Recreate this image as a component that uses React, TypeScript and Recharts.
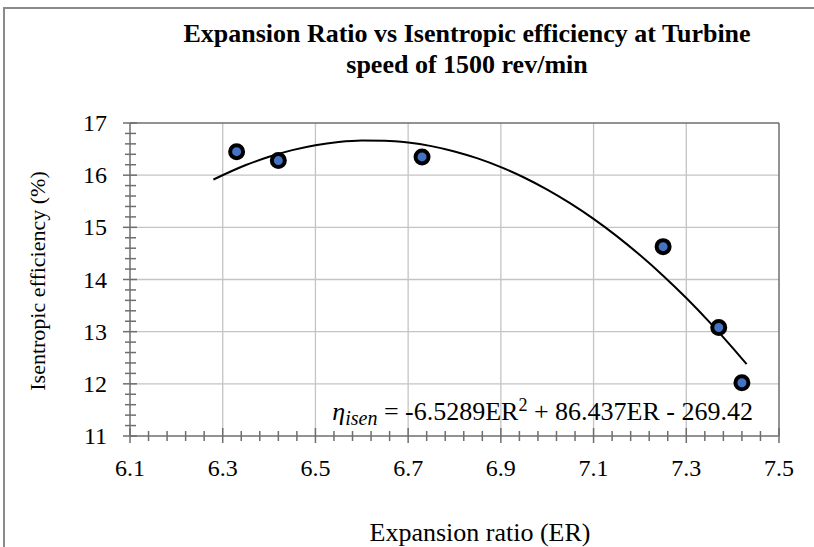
import React from 'react';
import { ComposedChart, Line, Scatter, XAxis, YAxis, ReferenceLine } from 'recharts';

// axis ticks (major, labelled)
const xMajorTicks = [6.1, 6.3, 6.5, 6.7, 6.9, 7.1, 7.3, 7.5];
const yMajorTicks = [11, 12, 13, 14, 15, 16, 17];

// measured points
const expansionRatio = [6.33, 6.42, 6.73, 7.25, 7.37, 7.42];
const efficiency = [16.45, 16.28, 16.35, 14.63, 13.08, 12.02];

// polynomial trendline
const trendX = [6.28, 6.35, 6.4, 6.45, 6.5, 6.55, 6.6, 6.65, 6.7, 6.75, 6.8, 6.85, 6.9, 6.95, 7.0, 7.05, 7.1, 7.15, 7.2, 7.25, 7.3, 7.35, 7.4, 7.43];
const trendY = [15.916, 16.194, 16.353, 16.48, 16.575, 16.636, 16.665, 16.662, 16.626, 16.557, 16.455, 16.321, 16.154, 15.955, 15.723, 15.458, 15.161, 14.831, 14.468, 14.073, 13.645, 13.184, 12.691, 12.379];

const points = expansionRatio.map((x, i) => ({ x, y: efficiency[i] }));
const trend = trendX.map((x, i) => ({ x, y: trendY[i] }));

// minor ticks between each pair of majors
const subdivide = (majors: number[], parts: number) => {
  const out: number[] = [];
  for (let i = 0; i < majors.length - 1; i++) {
    for (let k = 0; k < parts; k++) {
      out.push(Number((majors[i] + ((majors[i + 1] - majors[i]) * k) / parts).toFixed(3)));
    }
  }
  out.push(majors[majors.length - 1]);
  return out;
};
const xAllTicks = subdivide(xMajorTicks, 5);
const yAllTicks = subdivide(yMajorTicks, 5);

const serif = "'Liberation Serif', 'Times New Roman', serif";
const axisColor = '#6e6e6e';
const gridColor = '#c4c4c4';

const isMajor = (list: number[], v: number) => list.some((t) => Math.abs(t - v) < 1e-6);

const XTick = (props: any) => {
  const { x, y, payload } = props;
  const major = isMajor(xMajorTicks, payload.value);
  return (
    <g>
      <line x1={x} x2={x} y1={y - (major ? 8 : 5)} y2={y + (major ? 7 : 5)} stroke={axisColor} strokeWidth={1.5} />
      {major && (
        <text x={x} y={y + 40} textAnchor="middle" fontSize={24} fontFamily={serif} fill="#000">
          {payload.value.toFixed(1)}
        </text>
      )}
    </g>
  );
};

const YTick = (props: any) => {
  const { x, y, payload } = props;
  const major = isMajor(yMajorTicks, payload.value);
  return (
    <g>
      <line x1={x - (major ? 7 : 5)} x2={x + (major ? 7 : 6)} y1={y} y2={y} stroke={axisColor} strokeWidth={1.5} />
      {major && (
        <text x={x - 23} y={y + 8} textAnchor="end" fontSize={24} fontFamily={serif} fill="#000">
          {payload.value}
        </text>
      )}
    </g>
  );
};

const Marker = (props: any) => {
  const { cx, cy } = props;
  return <circle cx={cx} cy={cy} r={6.5} fill="#4472c4" stroke="#000" strokeWidth={4} />;
};

export default function App() {
  return (
    <div style={{ position: 'absolute', left: 0, top: 0, width: 814, height: 547, overflow: 'hidden', background: '#fff' }}>
      <div style={{ position: 'absolute', left: 0, top: 0 }}>
        <ComposedChart width={814} height={547} margin={{ top: 123, right: 35, bottom: 71, left: 70 }}>
          {xMajorTicks.slice(1, -1).map((v) => (
            <ReferenceLine key={`gx${v}`} xAxisId="main" yAxisId="main" x={v} stroke={gridColor} strokeWidth={1.3} />
          ))}
          {yMajorTicks.slice(1, -1).map((v) => (
            <ReferenceLine key={`gy${v}`} xAxisId="main" yAxisId="main" y={v} stroke={gridColor} strokeWidth={1.3} />
          ))}
          <XAxis
            xAxisId="main" dataKey="x" type="number" domain={[6.1, 7.5]} ticks={xAllTicks} interval={0}
            height={40} tickSize={0} tickMargin={0} tickLine={false} tick={<XTick />}
            axisLine={{ stroke: axisColor, strokeWidth: 1.5 }} allowDataOverflow
          />
          <YAxis
            yAxisId="main" type="number" domain={[11, 17]} ticks={yAllTicks} interval={0}
            width={60} tickSize={0} tickMargin={0} tickLine={false} tick={<YTick />}
            axisLine={{ stroke: axisColor, strokeWidth: 1.5 }} allowDataOverflow
          />
          <ReferenceLine xAxisId="main" yAxisId="main" y={17} stroke={axisColor} strokeWidth={1.5} />
          <ReferenceLine xAxisId="main" yAxisId="main" x={7.5} stroke={axisColor} strokeWidth={1.5} />
          <Line
            xAxisId="main" yAxisId="main" data={trend} dataKey="y" type="monotone"
            stroke="#000" strokeWidth={2} dot={false} activeDot={false} isAnimationActive={false}
          />
          <Scatter xAxisId="main" yAxisId="main" data={points} dataKey="y" shape={<Marker />} isAnimationActive={false} />
        </ComposedChart>
      </div>
      <div style={{ position: 'absolute', left: 3, top: 7, width: 811, height: 1.5, background: '#8a8a8a' }} />
      <div style={{ position: 'absolute', left: 3, top: 7, width: 1.5, height: 540, background: '#8a8a8a' }} />
      <div
        style={{
          position: 'absolute', left: 467, top: 18, transform: 'translateX(-50%)', textAlign: 'center',
          fontFamily: serif, fontWeight: 'bold', fontSize: 26, lineHeight: '31px', whiteSpace: 'nowrap', color: '#000',
        }}
      >
        Expansion Ratio vs Isentropic efficiency at Turbine
        <br />
        speed of 1500 rev/min
      </div>
      <div
        style={{
          position: 'absolute', left: 38, top: 281, transform: 'translate(-50%, -50%) rotate(-90deg)',
          fontFamily: serif, fontSize: 22, whiteSpace: 'nowrap', color: '#000',
        }}
      >
        Isentropic efficiency (%)
      </div>
      <div
        style={{
          position: 'absolute', left: 480, top: 533, transform: 'translate(-50%, -50%)',
          fontFamily: serif, fontSize: 26, whiteSpace: 'nowrap', color: '#000',
        }}
      >
        Expansion ratio (ER)
      </div>
      <div
        style={{
          position: 'absolute', left: 753, top: 412, transform: 'translate(-100%, -50%)',
          fontFamily: serif, fontSize: 26, whiteSpace: 'nowrap', color: '#000',
        }}
      >
        <i>η</i>
        <sub style={{ fontSize: 20, fontStyle: 'italic', verticalAlign: '-5px' }}>isen</sub> = -6.5289ER
        <sup style={{ fontSize: 18, verticalAlign: '9px' }}>2</sup> + 86.437ER - 269.42
      </div>
    </div>
  );
}
